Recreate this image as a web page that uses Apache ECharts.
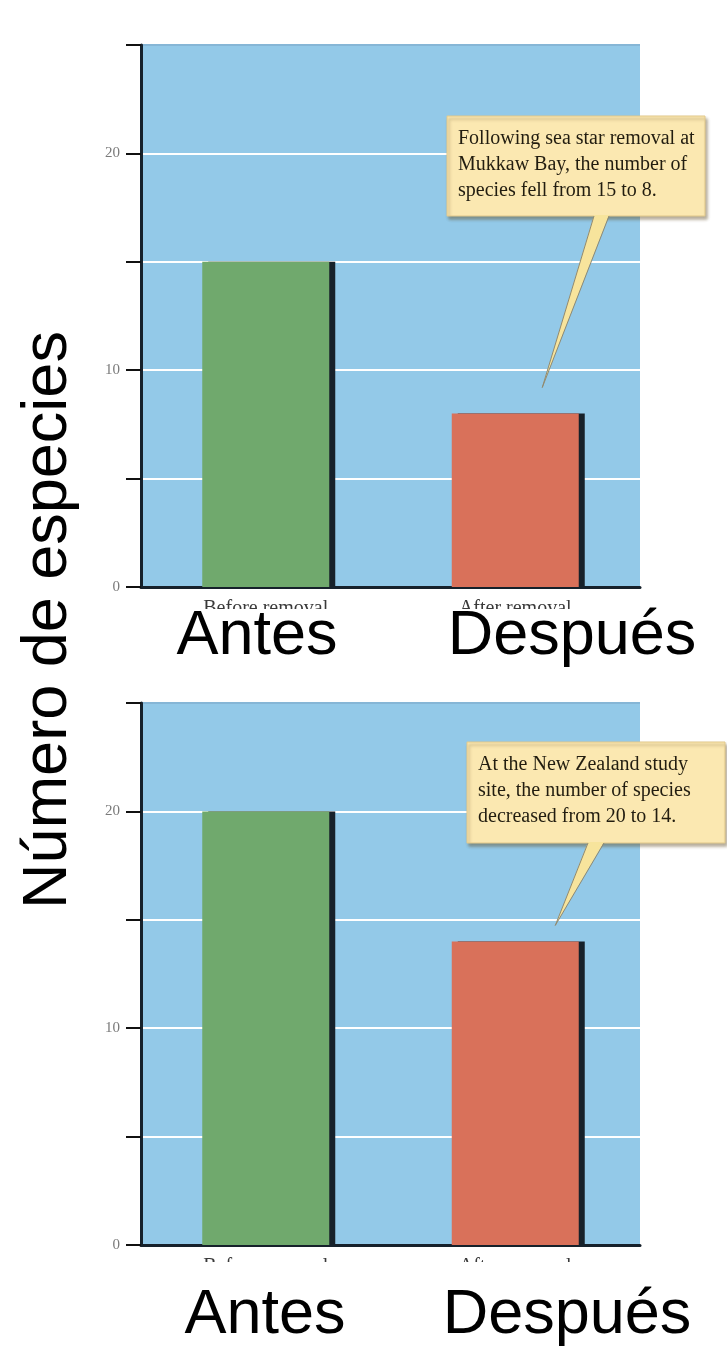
<!DOCTYPE html>
<html>
<head>
<meta charset="utf-8">
<script src="https://cdn.jsdelivr.net/npm/echarts@6/dist/echarts.min.js"></script>
<style>
  html, body { margin: 0; padding: 0; background: #ffffff; }
  #chart { width: 727px; height: 1348px; }
</style>
</head>
<body>
<div id="chart"></div>
<script>
// Species counts before and after sea star removal at two study sites
const categories = ['Before removal', 'After removal'];
const categoriesEs = ['Antes', 'Después'];
const mukkawBay = [15, 8];
const newZealand = [20, 14];
const labeledTicks = [0, 10, 20];
const yTitle = 'Número de especies';

const barColors = ['#70a96d', '#d9715a'];
const SERIF = '"Liberation Serif", "DejaVu Serif", serif';
const SANS = '"Liberation Sans", Arial, sans-serif';

const panels = [
  {
    top: 45, values: mukkawBay,
    note: ['Following sea star removal at', 'Mukkaw Bay, the number of',
           'species fell from ' + mukkawBay[0] + ' to ' + mukkawBay[1] + '.'],
    box: { x: 447, y: 116, w: 258, h: 100 },
    base: [594, 609], tipOffset: [27, -26],
    esLabels: [{ x: 257, y: 637 }, { x: 572, y: 637 }],
    clipY: 609
  },
  {
    top: 703, values: newZealand,
    note: ['At the New Zealand study', 'site, the number of species',
           'decreased from ' + newZealand[0] + ' to ' + newZealand[1] + '.'],
    box: { x: 467, y: 742, w: 258, h: 101 },
    base: [588, 604], tipOffset: [40, -16],
    esLabels: [{ x: 265, y: 1316 }, { x: 567, y: 1316 }],
    clipY: 1262
  }
];

const PLOT_H = 542;
const AXIS_COLOR = '#16212b';

const chart = echarts.init(document.getElementById('chart'), null, { renderer: 'canvas' });

const option = {
  animation: false,
  backgroundColor: '#ffffff',
  grid: panels.map(p => ({
    left: 141, width: 499, top: p.top, height: PLOT_H,
    show: true, backgroundColor: '#93c9e8', borderWidth: 0
  })),
  xAxis: panels.map((p, i) => ({
    type: 'category', gridIndex: i, data: categories,
    axisLine: { lineStyle: { color: AXIS_COLOR, width: 3 } },
    axisTick: { show: false },
    axisLabel: { fontFamily: SERIF, fontSize: 20, color: '#3a3a3a', margin: 12 },
    splitLine: { show: false }
  })),
  yAxis: panels.map((p, i) => ({
    type: 'value', gridIndex: i, min: 0, max: 25, interval: 5,
    axisLine: { show: true, lineStyle: { color: AXIS_COLOR, width: 3 } },
    axisTick: { show: true, length: 15, lineStyle: { color: '#111111', width: 2 } },
    axisLabel: {
      formatter: v => (labeledTicks.includes(v) ? String(v) : ''),
      fontFamily: SERIF, fontSize: 15, color: '#7a7a7a', margin: 21
    },
    splitLine: {
      show: true,
      lineStyle: {
        color: ['rgba(0,0,0,0)', '#ffffff', '#ffffff', '#ffffff', '#ffffff', '#86b6d6'],
        width: 2
      }
    }
  })),
  series: panels.map((p, i) => ({
    type: 'bar', xAxisIndex: i, yAxisIndex: i, data: p.values,
    barWidth: 127, silent: true,
    itemStyle: {
      color: params => barColors[params.dataIndex],
      shadowColor: '#17212a', shadowOffsetX: 6, shadowOffsetY: 0, shadowBlur: 0
    }
  }))
};

chart.setOption(option);

// Annotation callouts, Spanish category names and the shared y title
const graphics = [];
panels.forEach((p, i) => {
  // white band that trims the small printed category labels
  graphics.push({
    type: 'rect', z: 90, silent: true,
    shape: { x: 141, y: p.clipY, width: 520, height: 60 },
    style: { fill: '#ffffff' }
  });
  categoriesEs.forEach((name, k) => {
    graphics.push({
      type: 'text', z: 100, silent: true,
      x: p.esLabels[k].x, y: p.esLabels[k].y,
      style: { text: name, fontFamily: SANS, fontSize: 63, fill: '#000000',
               align: 'center', verticalAlign: 'middle' }
    });
  });

  const tip = chart.convertToPixel({ xAxisIndex: i, yAxisIndex: i }, [1, p.values[1]]);
  const tipX = tip[0] + p.tipOffset[0];
  const tipY = tip[1] + p.tipOffset[1];
  const b = p.box;
  const by = b.y + b.h;

  graphics.push({
    type: 'rect', z: 60, silent: true,
    shape: { x: b.x, y: b.y, width: b.w, height: b.h },
    style: { fill: '#fbe8b1', stroke: '#e2c98a', lineWidth: 1,
             shadowColor: 'rgba(95,75,35,0.45)', shadowBlur: 3, shadowOffsetX: 2, shadowOffsetY: 3 }
  });
  graphics.push({
    type: 'polygon', z: 61, silent: true,
    shape: { points: [[p.base[0], by - 1], [p.base[1], by - 1], [tipX, tipY]] },
    style: { fill: '#f7e49c' }
  });
  graphics.push({
    type: 'polyline', z: 62, silent: true,
    shape: { points: [[p.base[0], by], [tipX, tipY], [p.base[1], by]] },
    style: { stroke: '#8f8a72', lineWidth: 1, fill: null }
  });
  graphics.push({
    type: 'text', z: 63, silent: true,
    x: b.x + 11, y: b.y + 10,
    style: { text: p.note.join('\n'), fontFamily: SERIF, fontSize: 20, lineHeight: 26,
             fill: '#221d10', align: 'left', verticalAlign: 'top' }
  });
});

graphics.push({
  type: 'text', z: 100, silent: true,
  x: 49, y: 620, rotation: Math.PI / 2,
  style: { text: yTitle, fontFamily: SANS, fontSize: 63, fill: '#000000',
           align: 'center', verticalAlign: 'middle' }
});

chart.setOption({ graphic: { elements: graphics } });
</script>
</body>
</html>
